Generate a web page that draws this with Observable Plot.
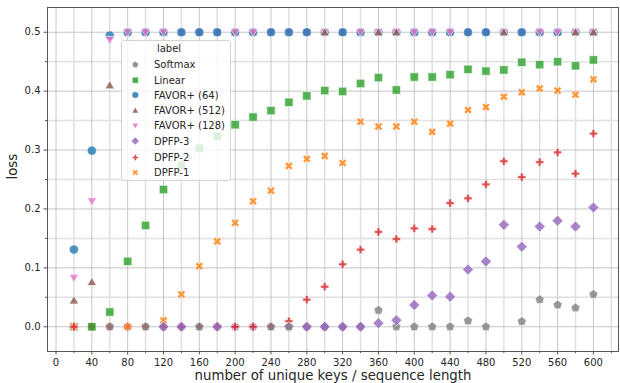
<!DOCTYPE html>
<html><head><meta charset="utf-8">
<script src="https://cdn.jsdelivr.net/npm/d3@7"></script>
<script src="https://cdn.jsdelivr.net/npm/@observablehq/plot@0.6"></script>
<style>
body{margin:0;background:#fff}
#wrap{position:relative;width:620px;height:383px;font-family:"DejaVu Sans",sans-serif}
#legend{position:absolute;left:121px;top:39.5px;width:110px;height:141px;background:rgba(255,255,255,0.8);border:1px solid #d4d4d4;border-radius:3px;box-sizing:border-box}
</style></head>
<body><div id="wrap"><div id="legend"></div></div>
<script>
// ---- data ----
const xs = [20,40,60,80,100,120,140,160,180,200,220,240,260,280,300,320,340,360,380,400,420,440,460,480,500,520,540,560,580,600];
const labels = ["Softmax","Linear","FAVOR+ (64)","FAVOR+ (512)","FAVOR+ (128)","DPFP-3","DPFP-2","DPFP-1"];
const softmax = [0,0,0,0,0,0,0,0,0,0,0,0,0,0,0,0,0,0.028,0,0,0,0,0.01,0,null,0.009,0.046,0.037,0.032,0.055];
const linear = [0,0,0.025,0.111,0.172,0.233,0.274,0.303,0.323,0.343,0.356,0.367,0.381,0.392,0.401,0.3995,0.413,0.423,0.402,0.424,0.424,0.428,0.437,0.434,0.436,0.449,0.445,0.450,0.443,0.453];
const favor64 = [0.131,0.299,0.4945,0.5,0.5,0.5,0.5,0.5,0.5,0.5,0.5,0.5,0.5,0.5,0.5,0.5,0.5,0.5,0.5,0.5,0.5,0.5,0.5,0.5,0.5,0.5,0.5,0.5,0.5,0.5];
const favor512 = [0.0447,0.076,0.41,0.5,0.5,0.5,0.5,0.5,0.5,0.5,0.5,0.5,0.5,0.5,0.5,0.5,0.5,0.5,0.5,0.5,0.5,0.5,0.5,0.5,0.5,0.5,0.5,0.5,0.5,0.5];
const favor128 = [0.083,0.213,0.487,0.5,0.5,0.5,0.5,0.5,0.5,0.5,0.5,0.5,0.5,0.5,0.5,0.5,0.5,0.5,0.5,0.5,0.5,0.5,0.5,0.5,0.5,0.5,0.5,0.5,0.5,0.5];
const dpfp3 = [0,0,0,0,0,0,0,0,0,0,0,0,0,0,0,0,0,0.006,0.011,0.037,0.053,0.051,0.097,0.111,0.173,0.136,0.170,0.180,0.170,0.2025];
const dpfp2 = [0,0,0,0,0,0,0,0,0,0,0,0,0.0095,0.046,0.068,0.106,0.131,0.161,0.149,0.167,0.166,0.21,0.218,0.2416,0.281,0.254,0.2795,0.296,0.26,0.328];
const dpfp1 = [0,0,0,0,0,0.0107,0.055,0.103,0.145,0.1765,0.213,0.231,0.273,0.285,0.290,0.278,0.348,0.340,0.340,0.348,0.331,0.345,0.368,0.373,0.3905,0.398,0.4046,0.401,0.394,0.42];
// which series' marker sits on top where several overlap (label index), per x
const topAtZero = [6,1,0,7,0,5,5,0,5,6,6,0,0,5,5,5,5];              // x = 20..340, loss = 0
const topAtHalf = [4,4,4,2,2,2,4,4,2,2,2,3,2,4,3,3,4,4,4,2,2,3,2,4,4,3,3]; // x = 80..600, loss = 0.5
const xTicks = [0,40,80,120,160,200,240,280,320,360,400,440,480,520,560,600];
const xMinor = [20,60,100,140,180,220,260,300,340,380,420,460,500,540,580,620];
const yTicks = [0.0,0.1,0.2,0.3,0.4,0.5];
const yMinor = [0.05,0.15,0.25,0.35,0.45];
const xLabel = "number of unique keys / sequence length";
const yLabel = "loss";

// ---- symbols ----
function polySym(pts, k) {
  return {draw(ctx) {
    ctx.moveTo(pts[0][0]*k, pts[0][1]*k);
    for (let i = 1; i < pts.length; i++) ctx.lineTo(pts[i][0]*k, pts[i][1]*k);
    ctx.closePath();
  }};
}
function makeSym(kind, k) {
  if (kind === "circle") return {draw(ctx){const r=4.6*k; ctx.moveTo(r,0); ctx.arc(0,0,r,0,2*Math.PI); ctx.closePath();}};
  if (kind === "pentagon") { const R=4.8; return polySym(d3.range(5).map(i=>{const a=(-90+72*i)*Math.PI/180; return [R*Math.cos(a), R*Math.sin(a)];}), k); }
  if (kind === "square") return polySym([[-4.2,-4.2],[4.2,-4.2],[4.2,4.2],[-4.2,4.2]], k);
  if (kind === "triUp") return polySym([[0,-4.6],[4.6,3.5],[-4.6,3.5]], k);
  if (kind === "triDown") return polySym([[0,4.6],[4.6,-3.5],[-4.6,-3.5]], k);
  if (kind === "diamond") return polySym([[0,-5.5],[5.5,0],[0,5.5],[-5.5,0]], k);
  const a=4.1, t=1.4;
  const plus = [[-t,-a],[t,-a],[t,-t],[a,-t],[a,t],[t,t],[t,a],[-t,a],[-t,t],[-a,t],[-a,-t],[-t,-t]];
  if (kind === "plus") return polySym(plus, k);
  const c=Math.SQRT1_2;
  return polySym(plus.map(([x,y])=>[(x-y)*c*1.05,(x+y)*c*1.05]), k); // X
}

const series = [
  {label: labels[0], values: softmax, color: "#7f7f7f", kind: "pentagon"},
  {label: labels[1], values: linear, color: "#2ca02c", kind: "square"},
  {label: labels[2], values: favor64, color: "#1f77b4", kind: "circle"},
  {label: labels[3], values: favor512, color: "#8c564b", kind: "triUp"},
  {label: labels[4], values: favor128, color: "#e377c2", kind: "triDown"},
  {label: labels[5], values: dpfp3, color: "#9467bd", kind: "diamond"},
  {label: labels[6], values: dpfp2, color: "#d62728", kind: "plus"},
  {label: labels[7], values: dpfp1, color: "#ff7f0e", kind: "x"}
];
const drawOrder = [0,1,3,2,4,5,7,6];

function isTop(si, i, v) {
  if (v === 0 && i < topAtZero.length) return topAtZero[i] === si;
  if (v === 0.5 && i >= 3) return topAtHalf[i-3] === si;
  return false;
}
function dotsFor(si, top) {
  const s = series[si];
  const rows = xs.map((x,i)=>({x, y: s.values[i], i})).filter(d=>d.y!=null && isTop(si, d.i, d.y) === top);
  return Plot.dot(rows, {x:"x", y:"y", r:4, symbol: makeSym(s.kind,1), fill: s.color, fillOpacity: 0.8, stroke: "white", strokeWidth: 0.6});
}
const dotMarks = [...drawOrder.map(si => dotsFor(si, false)), ...drawOrder.map(si => dotsFor(si, true))];

const chart = Plot.plot({
  width: 620, height: 383,
  marginLeft: 47, marginRight: 2, marginTop: 7, marginBottom: 32,
  style: {fontFamily: "DejaVu Sans, sans-serif", fontSize: "10px", color: "#262626", background: "white"},
  x: {domain: [-9.5, 628]},
  y: {domain: [-0.042, 0.542]},
  marks: [
    Plot.ruleX(xMinor, {stroke: "#e0e0e0", strokeWidth: 1.5}),
    Plot.ruleY(yMinor, {stroke: "#e0e0e0", strokeWidth: 1.5}),
    Plot.ruleX(xTicks, {stroke: "#c0c0c0", strokeWidth: 0.9}),
    Plot.ruleY(yTicks, {stroke: "#c0c0c0", strokeWidth: 0.9}),
    ...dotMarks,
    Plot.axisX(xMinor, {tickSize: 2, tickFormat: () => "", stroke: "#555", label: null}),
    Plot.axisY(yMinor, {tickSize: 2, tickFormat: () => "", stroke: "#555", label: null}),
    Plot.axisX(xTicks, {tickSize: 3.5, tickPadding: 3.5, stroke: "#555", fill: "#262626", fontSize: 10, label: null}),
    Plot.axisY(yTicks, {tickSize: 3.5, tickPadding: 3.5, stroke: "#555", fill: "#262626", fontSize: 10, tickFormat: d3.format(".1f"), label: null}),
    Plot.frame({stroke: "#555", strokeWidth: 1}),
    Plot.text([xLabel], {text: d=>d, frameAnchor: "bottom", dy: 28, fontSize: 13.3, fill: "#262626"}),
    Plot.text([yLabel], {text: d=>d, frameAnchor: "left", dx: -35, rotate: -90, fontSize: 13.3, fill: "#262626"})
  ]
});
const wrap = document.getElementById("wrap");
wrap.insertBefore(chart, wrap.firstChild);

// ---- legend ----
const lg = d3.select("#legend").append("svg").attr("width",108).attr("height",139)
  .style("font-family","DejaVu Sans, sans-serif").style("font-size","10px");
lg.append("text").attr("x",47).attr("y",7.2).attr("text-anchor","middle").attr("dominant-baseline","central").attr("fill","#262626").text("label");
const rowY = [23.8,39.2,54,69.5,84.8,100,116.5,131.5];
series.forEach((s,i)=>{
  const g = lg.append("g").attr("transform",`translate(13.3,${rowY[i]})`);
  g.append("path").attr("d", d3.symbol(makeSym(s.kind,0.72), 1)()).attr("fill", s.color).attr("fill-opacity",0.85).attr("stroke","white").attr("stroke-width",0.5);
  lg.append("text").attr("x",32).attr("y",rowY[i]).attr("dominant-baseline","central").attr("fill","#262626").text(s.label);
});
</script>
</body></html>
